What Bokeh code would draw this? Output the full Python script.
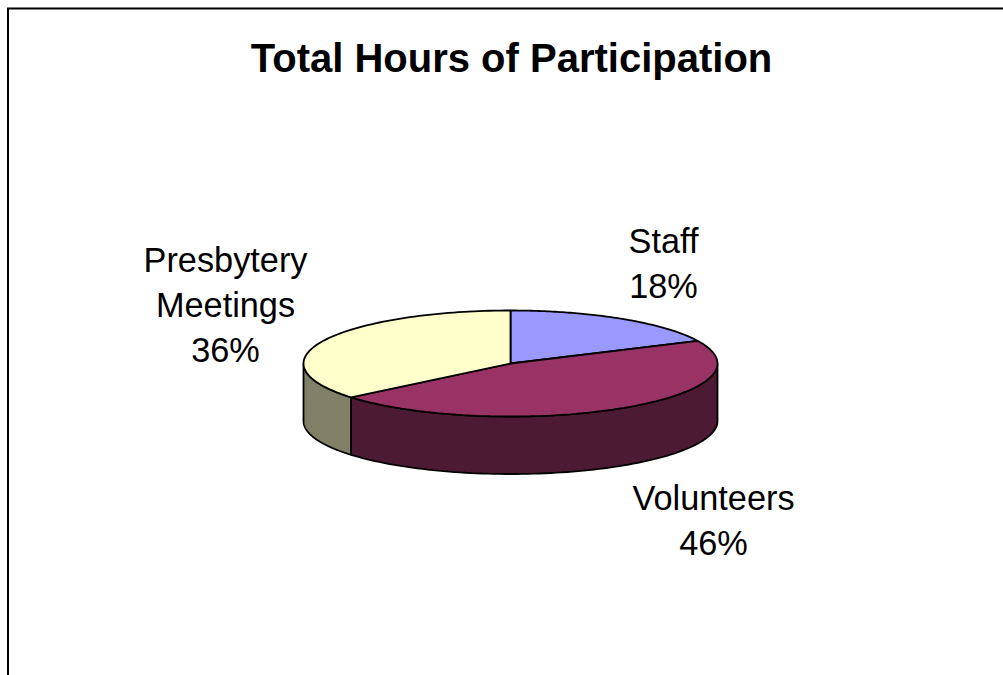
import numpy as np
from bokeh.plotting import figure
from bokeh.models import Range1d
from bokeh.core.properties import value
from bokeh.embed import file_html
from bokeh.resources import INLINE

title_text = "Total Hours of Participation"
categories = ["Staff", "Volunteers", "Presbytery Meetings"]
shares = [18, 46, 36]
top_colors = ["#9999FF", "#993366", "#FFFFCC"]
side_colors = ["#4D4D80", "#4D1A33", "#808066"]
label_lines = [["Staff"], ["Volunteers"], ["Presbytery", "Meetings"]]
label_anchor = [(663, 240.5), (713, 497.5), (225, 259.5)]

CX, CY, RX, RY, DEPTH = 510, 363, 207, 53, 57.5
LINE_H = 45

W, H = 1003, 675
p = figure(width=W, height=H, output_backend="svg", toolbar_location=None,
           x_range=Range1d(0, W), y_range=Range1d(H, 0),
           min_border=0, outline_line_color=None, background_fill_color="white",
           border_fill_color="white")
p.axis.visible = False
p.grid.visible = False


def rim(a0, a1):
    t = np.radians(np.linspace(a0, a1, 90))
    return CX + RX * np.sin(t), CY - RY * np.cos(t)


edges = np.cumsum([0] + shares) * 3.6

# side walls (only the front half, 90..270 degrees, is visible)
for i in range(len(shares)):
    a0, a1 = max(edges[i], 90), min(edges[i + 1], 270)
    if a1 <= a0:
        continue
    x, y = rim(a0, a1)
    xs = np.concatenate([x, x[::-1]])
    ys = np.concatenate([y, y[::-1] + DEPTH])
    p.patch(xs, ys, fill_color=side_colors[i], line_color="black", line_width=1.8)

# top face
for i in range(len(shares)):
    x, y = rim(edges[i], edges[i + 1])
    p.patch(np.concatenate([[CX], x]), np.concatenate([[CY], y]),
            fill_color=top_colors[i], line_color="black", line_width=1.8)

# frame: only top and left edges fall inside the picture
p.line([7.5, 7.5, W], [H, 8, 8], line_color="black", line_width=2, line_join="miter")

p.text([511], [57.5], text=[title_text], text_font=value("Liberation Sans"),
       text_font_style="bold", text_font_size="40px", text_color="black",
       text_align="center", text_baseline="middle")

for lines, share, (ax, ay) in zip(label_lines, shares, label_anchor):
    rows = lines + [f"{share}%"]
    p.text([ax] * len(rows), [ay + k * LINE_H for k in range(len(rows))], text=rows,
           text_font=value("Liberation Sans"), text_font_size="34.3px", text_color="black",
           text_align="center", text_baseline="middle")

open("out.html", "w").write(file_html(p, INLINE))
